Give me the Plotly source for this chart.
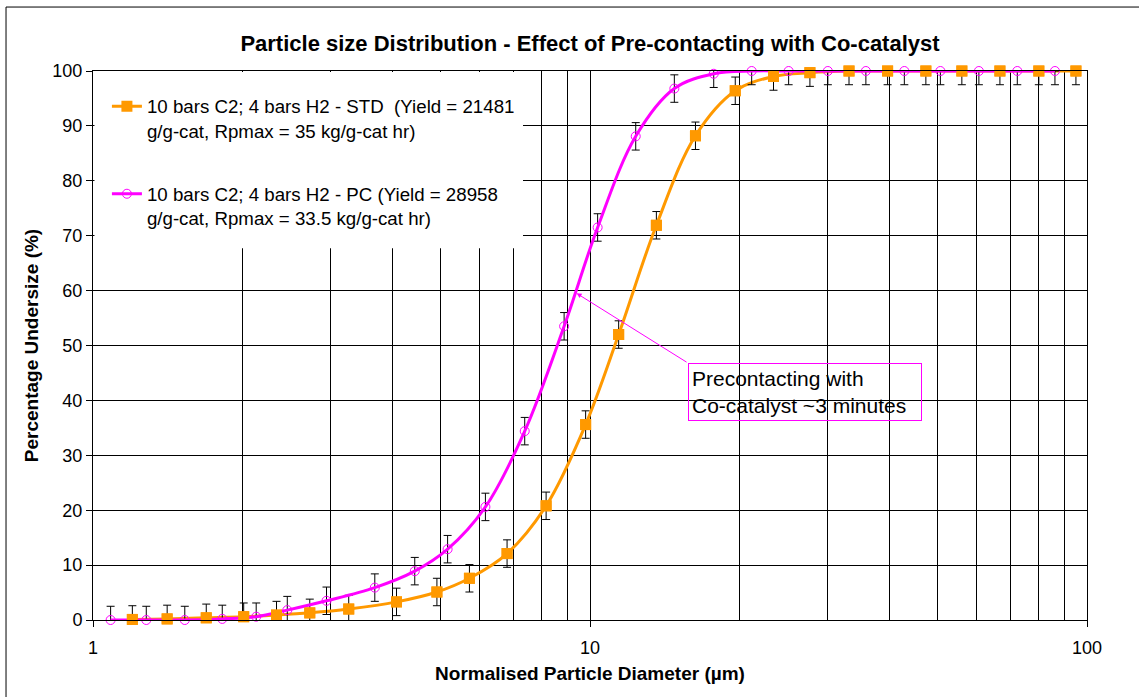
import math
import plotly.graph_objects as go

# Normalised particle diameters (µm) and cumulative % undersize
std_x = [1.20, 1.41, 1.69, 2.01, 2.34, 2.73, 3.27, 4.08, 4.92, 5.72, 6.81, 8.16, 9.80,
         11.42, 13.6, 16.3, 19.6, 23.4, 27.7, 33.2, 39.7, 47.4, 56.0, 66.8, 80.0, 95.0]
std_y = [0.1, 0.2, 0.4, 0.6, 0.9, 1.3, 2.0, 3.3, 5.1, 7.6, 12.1, 20.8, 35.6,
         52.0, 71.9, 88.2, 96.4, 99.0, 99.7, 100, 100, 100, 100, 100, 100, 100]
std_err_plus = [2.5] * 17 + [2.0, 1.3] + [0] * 7
std_err_minus = [1.2, 1.3, 1.5, 1.7, 2.0, 2.4] + [2.5] * 20

pc_x = [1.085, 1.28, 1.53, 1.82, 2.13, 2.46, 2.95, 3.69, 4.44, 5.17, 6.16, 7.39, 8.87,
        10.36, 12.36, 14.78, 17.74, 21.15, 25.1, 30.1, 35.9, 42.9, 50.7, 60.6, 72.4, 86.2]
pc_y = [0.0, 0.0, 0.0, 0.2, 0.6, 1.8, 3.5, 5.9, 8.9, 12.9, 20.6, 34.4, 53.5,
        71.5, 88.1, 96.8, 99.5, 100, 100, 100, 100, 100, 100, 100, 100, 100]
pc_err_plus = [2.5] * 16 + [1.5] + [0] * 9
pc_err_minus = [1.1, 1.1, 1.1, 1.3, 1.7] + [2.5] * 21

std_name = "10 bars C2; 4 bars H2 - STD  (Yield = 21481<br>g/g-cat, Rpmax = 35 kg/g-cat hr)"
pc_name = "10 bars C2; 4 bars H2 - PC (Yield = 28958<br>g/g-cat, Rpmax = 33.5 kg/g-cat hr)"

title_text = "Particle size Distribution - Effect of Pre-contacting with Co-catalyst"
x_title = "Normalised Particle Diameter (µm)"
y_title = "Percentage Undersize (%)"
note_text = "Precontacting with<br>Co-catalyst ~3 minutes"
note_point = (9.4, 59.5)      # where the arrow points (diameter, %)
note_anchor = (15.75, 46.8)   # top-left corner of the note box

ORANGE = "#FF9900"
MAGENTA = "#FF00FF"
FONT = "Liberation Sans, Arial, sans-serif"

fig = go.Figure()

fig.add_trace(go.Scatter(
    x=std_x, y=std_y, name=std_name, legendgroup="std",
    mode="lines+markers",
    line=dict(color=ORANGE, width=3, shape="spline", smoothing=1),
    marker=dict(symbol="square", size=11, color=ORANGE),
    error_y=dict(type="data", array=std_err_plus, arrayminus=std_err_minus,
                 color="black", thickness=1, width=4),
    cliponaxis=False,
))

fig.add_trace(go.Scatter(
    x=pc_x, y=pc_y, name=pc_name, legendgroup="pc",
    mode="lines+markers",
    line=dict(color=MAGENTA, width=3, shape="spline", smoothing=1),
    marker=dict(symbol="circle-open", size=9, color=MAGENTA, line=dict(width=1, color=MAGENTA)),
    error_y=dict(type="data", array=pc_err_plus, arrayminus=pc_err_minus,
                 color="black", thickness=1, width=4),
    cliponaxis=False,
))

# STD markers repeated on top so they sit above the PC curve
fig.add_trace(go.Scatter(
    x=std_x, y=std_y, legendgroup="std", showlegend=False,
    mode="markers", marker=dict(symbol="square", size=11, color=ORANGE),
    hoverinfo="skip", cliponaxis=False,
))

# Note box and its arrow (annotation coordinates on a log axis are log10 values)
fig.add_annotation(
    x=math.log10(note_anchor[0]), y=note_anchor[1], xref="x", yref="y",
    text=note_text, showarrow=False, xanchor="left", yanchor="top",
    align="left", width=226, borderpad=3,
    bordercolor=MAGENTA, borderwidth=1,
    font=dict(family=FONT, size=21, color="black"),
)
fig.add_annotation(
    x=math.log10(note_point[0]), y=note_point[1], xref="x", yref="y",
    ax=math.log10(note_anchor[0]), ay=note_anchor[1], axref="x", ayref="y",
    text="", showarrow=True, arrowhead=2, arrowsize=1, arrowwidth=1,
    arrowcolor=MAGENTA, standoff=0,
)

# White panel behind the legend hiding the gridlines there
fig.add_shape(type="rect", xref="paper", yref="paper",
              x0=0.0015, x1=0.4326, y0=0.677, y1=0.998,
              fillcolor="white", line=dict(width=0), layer="above")

# Outer chart frame
fig.add_shape(type="rect", xref="paper", yref="paper",
              x0=-0.0875, x1=1.06, y0=-0.15, y1=1.1165,
              line=dict(color="black", width=1), fillcolor="rgba(0,0,0,0)", layer="above")

fig.update_layout(
    width=1139, height=697,
    margin=dict(l=93, r=52, t=71, b=77),
    paper_bgcolor="white", plot_bgcolor="white",
    font=dict(family=FONT, color="black", size=18),
    title=dict(text="<b>" + title_text + "</b>", x=0.5, xref="paper", xanchor="center",
               y=0.938, yanchor="middle", font=dict(family=FONT, size=22, color="black")),
    legend=dict(x=0.014, y=0.97, xanchor="left", yanchor="top", bgcolor="rgba(0,0,0,0)",
                borderwidth=0, traceorder="grouped", tracegroupgap=36,
                valign="top", font=dict(family=FONT, size=18.7, color="black")),
    showlegend=True,
)

fig.update_xaxes(
    type="log", range=[0, 2], dtick=1,
    showgrid=True, gridcolor="black", gridwidth=1,
    minor=dict(dtick="D1", showgrid=True, gridcolor="black", gridwidth=1, ticks=""),
    ticks="outside", ticklen=6, tickcolor="black", ticklabelstandoff=5,
    showline=True, linecolor="black", linewidth=1, mirror=True,
    tickfont=dict(family=FONT, size=18, color="black"),
    title=dict(text="<b>" + x_title + "</b>", font=dict(family=FONT, size=19, color="black"),
               standoff=10),
    zeroline=False,
)
fig.update_yaxes(
    range=[0, 100], dtick=10,
    showgrid=True, gridcolor="black", gridwidth=1,
    ticks="outside", ticklen=6, tickcolor="black",
    showline=True, linecolor="black", linewidth=1, mirror=True,
    tickfont=dict(family=FONT, size=18, color="black"),
    title=dict(text="<b>" + y_title + "</b>", font=dict(family=FONT, size=19, color="black"),
               standoff=8),
    zeroline=False,
)

fig.write_html("out.html")
